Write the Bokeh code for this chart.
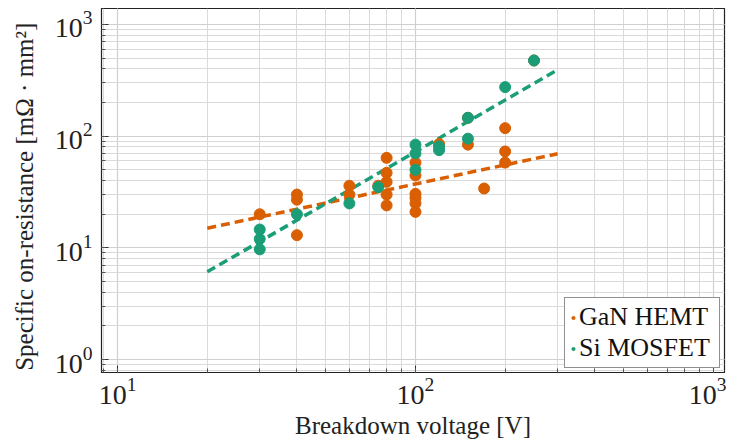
import numpy as np
from bokeh.plotting import figure
from bokeh.models import Range1d, Legend, LegendItem
from bokeh.embed import file_html
from bokeh.resources import INLINE

# GaN HEMT data (breakdown voltage [V], specific on-resistance [mOhm mm^2])
gan_v = [30, 40, 40, 40, 60, 60, 75, 80, 80, 80, 80, 80, 100, 100, 100, 100, 100, 100,
         120, 150, 150, 170, 200, 200, 200, 250]
gan_r = [20, 30, 27, 13, 36, 30, 36, 64, 47, 39, 30, 24, 58, 44.5, 30.5, 28, 25, 21,
         85, 84, 146, 34, 118, 73, 58, 476]
# Si MOSFET data
si_v = [30, 30, 30, 40, 60, 75, 100, 100, 100, 120, 120, 150, 150, 200, 250]
si_r = [14.6, 12, 9.7, 20, 25, 35, 84, 70, 50, 81, 75, 146, 95, 275, 476]
# fitted trend lines
trend_v = [20, 300]
gan_fit = [15.0, 69.6]
si_fit = [6.1, 393]

ORANGE = "#d95f02"
GREEN = "#1b9e77"
FONT = "Liberation Serif"
TXT = "#222222"

W, H = 726, 441
p = figure(width=W, height=H, x_axis_type="log", y_axis_type="log",
           x_range=Range1d(8.83, 1090), y_range=Range1d(0.766, 1390),
           output_backend="svg", toolbar_location=None,
           min_border_left=101, min_border_top=8, min_border_right=2, min_border_bottom=69)

p.outline_line_color = "#222222"
p.outline_line_width = 1.2
p.background_fill_color = "white"

for g in (p.xgrid, p.ygrid):
    g.grid_line_color = "#cfcfcf"
    g.grid_line_width = 1.2
    g.minor_grid_line_color = "#dadada"
    g.minor_grid_line_width = 1

for ax in (p.xaxis[0], p.yaxis[0]):
    ax.major_tick_out = 0
    ax.major_tick_in = 7
    ax.minor_tick_out = 0
    ax.minor_tick_in = 4
    ax.major_tick_line_color = "#333333"
    ax.minor_tick_line_color = "#555555"
    ax.axis_line_color = "#222222"
    ax.major_label_text_font = FONT
    ax.major_label_text_font_size = "28px"
    ax.major_label_text_color = TXT
    ax.axis_label_text_font = FONT
    ax.axis_label_text_font_style = "normal"
    ax.axis_label_text_color = TXT

p.xaxis[0].axis_label = "Breakdown voltage [V]"
p.xaxis[0].axis_label_text_font_size = "25px"
p.xaxis[0].major_label_standoff = 5
p.xaxis[0].axis_label_standoff = 5
p.yaxis[0].axis_label = "Specific on-resistance [mΩ  ·  mm²]"
p.yaxis[0].axis_label_text_font_size = "25px"
p.yaxis[0].major_label_standoff = 9
p.yaxis[0].axis_label_standoff = 14

p.line(trend_v, gan_fit, line_color=ORANGE, line_width=3.5, line_dash="9 5")
p.line(trend_v, si_fit, line_color=GREEN, line_width=3.5, line_dash="9 5")

p.scatter(gan_v, gan_r, size=11, fill_color=ORANGE, line_color=ORANGE)
p.scatter(si_v, si_r, size=11, fill_color=GREEN, line_color=GREEN)

# small legend markers
lg_gan = p.scatter([np.nan], [np.nan], size=6, fill_color=ORANGE, line_color=ORANGE)
lg_si = p.scatter([np.nan], [np.nan], size=6, fill_color=GREEN, line_color=GREEN)

legend = Legend(items=[LegendItem(label="GaN HEMT", renderers=[lg_gan]),
                       LegendItem(label="Si MOSFET", renderers=[lg_si])],
                location="bottom_right")
legend.label_text_font = FONT
legend.label_text_font_size = "26px"
legend.label_text_color = "#111111"
legend.glyph_width = 8
legend.glyph_height = 29
legend.label_height = 29
legend.label_width = 136
legend.label_standoff = 2
legend.spacing = 1
legend.padding = 4
legend.margin = 4
legend.border_line_color = "#222222"
legend.border_line_width = 1.2
legend.background_fill_alpha = 1
p.add_layout(legend)

open("out.html", "w").write(file_html(p, INLINE))
